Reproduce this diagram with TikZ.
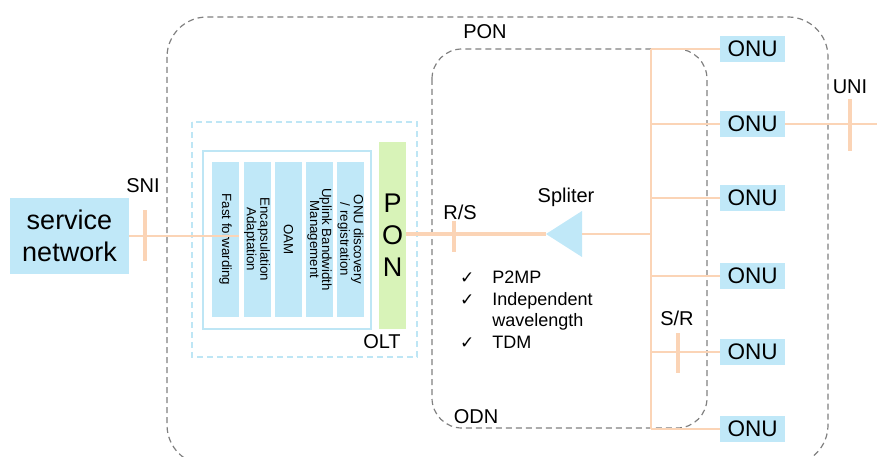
\documentclass[tikz,border=0pt]{standalone}
\usepackage{fontspec}
\setmainfont{Liberation Sans}
\newfontfamily\dejavu{DejaVu Sans}
\definecolor{lblue}{RGB}{192,232,248}
\definecolor{lgreen}{RGB}{216,243,184}
\definecolor{peach}{RGB}{251,212,182}
\definecolor{dgray}{RGB}{128,128,128}
\definecolor{dblue}{RGB}{190,230,245}
\tikzset{
  x=1pt,y=-1pt,
  lbl/.style={font=\fontsize{20}{24}\selectfont, inner sep=0},
  bar/.style={fill=lblue, rotate=-90, minimum width=155, minimum height=27, inner sep=0, align=center, font=\fontsize{13.3}{12}\selectfont},
  onu/.style={fill=lblue, minimum width=65, minimum height=26, inner sep=0, font=\fontsize{22.5}{24}\selectfont},
  thinline/.style={draw=peach, line width=1.5pt},
  tick/.style={draw=peach, line width=4pt},
  graydash/.style={draw=dgray, line width=1.2pt, dash pattern=on 6pt off 4pt},
  chk/.style={font=\dejavu\fontsize{17}{21.7}\selectfont},
}
\begin{document}
\begin{tikzpicture}
\clip (0,0) rectangle (877,457);
% outer and ODN dashed boxes
\draw[graydash, rounded corners=40pt] (167,17) rectangle (828,465);
\draw[graydash, rounded corners=30pt] (432,49) rectangle (707,428);
% OLT box
\draw[draw=dblue, line width=1.2pt, dash pattern=on 6pt off 4pt] (192,122) rectangle (417,357);
\draw[draw=dblue, line width=1.2pt] (203,151) rectangle (371,329);
% service network
\node[fill=lblue, minimum width=119, minimum height=76, inner sep=0, align=center, font=\fontsize{27}{32}\selectfont] (sn) at (69.5,236) {service\\network};
% bars
\node[bar] (b1) at (225.5,239.5) {Fast forwarding};
\node[bar] (b2) at (257,239.5) {Encapsulation\\Adaptation};
\node[bar] (b3) at (288.5,239.5) {OAM};
\node[bar] (b4) at (319.5,239.5) {Uplink Bandwidth\\Management};
\node[bar] (b5) at (350.5,239.5) {ONU discovery\\/ registration};
\node[fill=lgreen, minimum width=27, minimum height=187, inner sep=0, align=center, font=\fontsize{27}{32}\selectfont] (pon) at (392.5,235.5) {P\\O\\N};
% splitter
\coordinate (splL) at (546,234);
\coordinate (splR) at (582,234);
\fill[lblue] (splL) -- (582,211) -- (582,257) -- cycle;
% SNI connection
\draw[thinline] (sn.east |- 0,236) -- (b1.north |- 0,236);
\draw[tick] (145,210) -- (145,261);
% PON - splitter
\draw[draw=peach, line width=4pt] (pon.east |- splL) -- (splL);
\draw[tick] (454,221) -- (454,252);
% ONUs
\node[onu] (o1) at (752.5,49) {ONU};
\node[onu] (o2) at (752.5,124) {ONU};
\node[onu] (o3) at (752.5,198) {ONU};
\node[onu] (o4) at (752.5,276) {ONU};
\node[onu] (o5) at (752.5,352) {ONU};
\node[onu] (o6) at (752.5,429) {ONU};
\coordinate (busT) at (651,49);
\coordinate (busB) at (651,429);
\draw[thinline] (busT) -- (busB);
\draw[thinline] (splR) -- (busT |- splR);
\foreach \o in {o1,o2,o3,o4,o5,o6} \draw[thinline] (busT |- \o.west) -- (\o.west);
\coordinate (uniEnd) at (877,124);
\draw[thinline] (o2.east) -- (uniEnd);
\draw[tick] (850,99) -- (850,151);
\draw[tick] (678,333) -- (678,373);
% labels
\node[lbl] (sni) at (143,186) {SNI};
\node[lbl] (rs) at (460,212) {R/S};
\node[lbl] (spl) at (566,197) {Spliter};
\node[lbl] (uni) at (850,87) {UNI};
\node[lbl] (sr) at (677,318) {S/R};
\node[lbl] (ponl) at (485,32) {PON};
\node[lbl] (odn) at (476,417) {ODN};
\node[lbl] (olt) at (382,342) {OLT};
\node[anchor=north west, inner sep=0, font=\fontsize{18}{21.7}\selectfont] (feat) at (460,268) {%
\begin{tabular}{@{}l@{\hspace{18pt}}l@{}}
{\dejavu\fontsize{17}{21.7}\selectfont ✓} & P2MP\\
{\dejavu\fontsize{17}{21.7}\selectfont ✓} & Independent\\
 & wavelength\\
{\dejavu\fontsize{17}{21.7}\selectfont ✓} & TDM
\end{tabular}};
\end{tikzpicture}
\end{document}
